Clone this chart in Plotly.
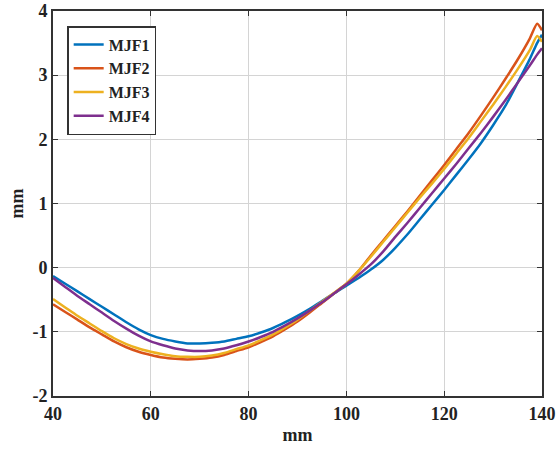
import plotly.graph_objects as go

# position along the part (mm)
x_mm = [40, 42.5, 45, 47.5, 50, 52.5, 55, 57.5, 60, 62.5, 65, 67.5, 70, 72.5,
        75, 77.5, 80, 82.5, 85, 87.5, 90, 92.5, 95, 97.5, 100, 102.5, 105,
        107.5, 110, 112.5, 115, 117.5, 120, 122.5, 125, 127.5, 130, 132.5,
        135, 137.5, 139, 140]

mjf1 = [-0.13, -0.25, -0.37, -0.49, -0.61, -0.73, -0.85, -0.96, -1.05, -1.11,
        -1.15, -1.18, -1.18, -1.17, -1.15, -1.11, -1.07, -1.01, -0.94, -0.85,
        -0.75, -0.64, -0.52, -0.40, -0.28, -0.16, -0.03, 0.12, 0.31, 0.52,
        0.75, 0.98, 1.21, 1.45, 1.69, 1.94, 2.22, 2.52, 2.88, 3.25, 3.50, 3.63]

mjf2 = [-0.57, -0.69, -0.81, -0.93, -1.04, -1.15, -1.24, -1.31, -1.36, -1.40,
        -1.42, -1.43, -1.42, -1.40, -1.36, -1.30, -1.24, -1.16, -1.07, -0.96,
        -0.84, -0.70, -0.55, -0.40, -0.25, -0.05, 0.19, 0.42, 0.65, 0.88,
        1.12, 1.36, 1.60, 1.85, 2.10, 2.37, 2.65, 2.94, 3.24, 3.57, 3.80, 3.70]

mjf3 = [-0.49, -0.62, -0.75, -0.87, -0.99, -1.10, -1.19, -1.26, -1.31, -1.35,
        -1.38, -1.39, -1.39, -1.37, -1.33, -1.27, -1.21, -1.13, -1.04, -0.93,
        -0.81, -0.67, -0.53, -0.39, -0.25, -0.05, 0.17, 0.40, 0.63, 0.86,
        1.09, 1.31, 1.54, 1.78, 2.02, 2.28, 2.54, 2.81, 3.09, 3.39, 3.61, 3.52]

mjf4 = [-0.16, -0.30, -0.44, -0.57, -0.70, -0.83, -0.95, -1.06, -1.15, -1.21,
        -1.26, -1.29, -1.30, -1.29, -1.26, -1.21, -1.15, -1.08, -1.00, -0.90,
        -0.79, -0.67, -0.54, -0.40, -0.26, -0.11, 0.05, 0.25, 0.48, 0.70,
        0.93, 1.16, 1.39, 1.62, 1.86, 2.10, 2.35, 2.61, 2.88, 3.15, 3.32, 3.42]

series = {"MJF1": mjf1, "MJF2": mjf2, "MJF3": mjf3, "MJF4": mjf4}
colors = {"MJF1": "#0072BD", "MJF2": "#D95319",
          "MJF3": "#EDB120", "MJF4": "#7E2F8E"}

font_main = "Liberation Serif"
ink = "#222222"

fig = go.Figure()
for name, vals in series.items():
    fig.add_trace(go.Scatter(x=x_mm, y=vals, mode="lines",
                             name="<b>" + name + "</b>",
                             line=dict(color=colors[name], width=2.5,
                                       shape="spline", smoothing=0.6)))

axis_style = dict(showline=True, linecolor="#333333", linewidth=2,
                  mirror="allticks", ticks="inside", ticklen=5,
                  tickcolor="#333333", tickwidth=1.2,
                  showgrid=True, gridcolor="#d4d4d4", gridwidth=1,
                  zeroline=False, automargin=False,
                  tickfont=dict(family=font_main, size=18, color=ink))

fig.update_xaxes(range=[40, 140], tickvals=[40, 60, 80, 100, 120, 140],
                 ticktext=["<b>40</b>", "<b>60</b>", "<b>80</b>", "<b>100</b>",
                           "<b>120</b>", "<b>140</b>"],
                 title=dict(text="<b>mm</b>", standoff=6,
                            font=dict(family=font_main, size=18, color=ink)),
                 **axis_style)
fig.update_yaxes(range=[-2, 4], tickvals=[-2, -1, 0, 1, 2, 3, 4],
                 ticktext=["<b>-2</b>", "<b>-1</b>", "<b>0</b>", "<b>1</b>",
                           "<b>2</b>", "<b>3</b>", "<b>4</b>"],
                 title=dict(text="<b>mm</b>", standoff=4,
                            font=dict(family=font_main, size=18, color=ink)),
                 **axis_style)

fig.update_layout(
    width=559, height=454,
    margin=dict(l=53, r=17, t=11, b=58),
    plot_bgcolor="white", paper_bgcolor="white",
    font=dict(family=font_main, color=ink),
    legend=dict(x=0.029, y=0.961, xanchor="left", yanchor="top",
                bgcolor="white", bordercolor="#333333", borderwidth=1.5,
                font=dict(family=font_main, size=16, color=ink),
                itemwidth=30, tracegroupgap=0),
    showlegend=True,
)

# page body margin off so the figure sits at the window's corner
fig.write_html("out.html", config={"displayModeBar": False},
               post_script="document.body.style.margin='0';")
